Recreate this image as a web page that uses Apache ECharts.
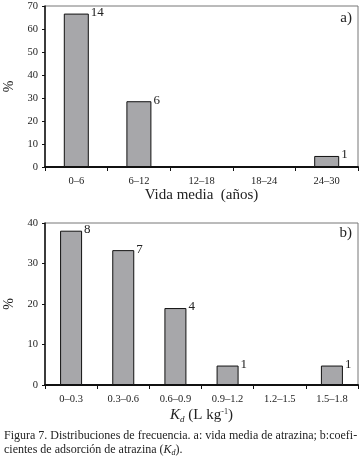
<!DOCTYPE html>
<html>
<head>
<meta charset="utf-8">
<script src="https://cdn.jsdelivr.net/npm/echarts@6/dist/echarts.min.js"></script>
<style>
  html, body { margin: 0; padding: 0; background: #fff; }
  #main { width: 364px; height: 462px; }
</style>
</head>
<body>
<div id="main"></div>
<script>
// a) vida media (años)
var catsA = ['0–6', '6–12', '12–18', '18–24', '24–30'];
var pctA = [66.7, 28.6, 0, 0, 4.8];
var countA = [14, 6, 0, 0, 1];
// b) Kd (L kg-1)
var catsB = ['0–0.3', '0.3–0.6', '0.6–0.9', '0.9–1.2', '1.2–1.5', '1.5–1.8'];
var pctB = [38.1, 33.3, 19.0, 4.8, 0, 4.8];
var countB = [8, 7, 4, 1, 0, 1];

var serif = '"Liberation Serif", "DejaVu Serif", serif';
var ink = '#222';

var myChart = echarts.init(document.getElementById('main'));

function xAxisFor(cats, idx, name, gap) {
    return {
        type: 'category', gridIndex: idx, data: cats,
        name: name, nameLocation: 'middle', nameGap: gap,
        nameTextStyle: { fontFamily: serif, fontSize: 15, color: ink, rich: {
            i: { fontFamily: serif, fontSize: 15, fontStyle: 'italic', color: ink },
            sub: { fontFamily: serif, fontSize: 9, fontStyle: 'italic', color: ink, padding: [8, 0, 0, 0] },
            n: { fontFamily: serif, fontSize: 15, color: ink },
            sup: { fontFamily: serif, fontSize: 8, color: ink, padding: [0, 0, 8, 0] }
        } },
        axisLine: { lineStyle: { color: '#111', width: 2 } },
        axisTick: { show: true, length: 4, lineStyle: { color: '#111' } },
        axisLabel: { fontFamily: serif, fontSize: 10.5, color: ink, margin: 9 },
        splitLine: { show: false }
    };
}

function yAxisFor(idx, max) {
    return {
        type: 'value', gridIndex: idx, min: 0, max: max, interval: 10,
        name: '%', nameLocation: 'middle', nameGap: 26, nameRotate: 90,
        nameTextStyle: { fontFamily: serif, fontSize: 14, color: ink },
        axisLine: { show: true, lineStyle: { color: '#111', width: 1.5 } },
        axisTick: { show: true, length: 3, lineStyle: { color: '#111' } },
        axisLabel: { fontFamily: serif, fontSize: 10.5, color: ink, margin: 7 },
        splitLine: { show: false }
    };
}

function barSeries(idx, vals, counts, width) {
    return {
        type: 'bar', xAxisIndex: idx, yAxisIndex: idx,
        data: vals, barWidth: width,
        itemStyle: { color: '#a7a7aa', borderColor: '#111', borderWidth: 1 },
        label: {
            show: true, position: ['100%', 0], align: 'left', verticalAlign: 'middle',
            offset: [2, -1],
            fontFamily: serif, fontSize: 13, color: ink,
            formatter: function (p) { return counts[p.dataIndex] ? String(counts[p.dataIndex]) : ''; }
        },
        silent: true
    };
}

var option = {
    animation: false,
    backgroundColor: '#fff',
    grid: [
        { left: 45, right: 6, top: 6, height: 161, show: true, borderColor: '#777', borderWidth: 1,
          containLabel: false, outerBoundsMode: 'none' },
        { left: 45, right: 6, top: 223, height: 162, show: true, borderColor: '#777', borderWidth: 1,
          containLabel: false, outerBoundsMode: 'none' }
    ],
    xAxis: [
        xAxisFor(catsA, 0, 'Vida media  (años)', 20),
        xAxisFor(catsB, 1, '{i|K}{sub|d}{n| (L kg}{sup|-1}{n|)}', 22)
    ],
    yAxis: [yAxisFor(0, 70), yAxisFor(1, 40)],
    series: [
        barSeries(0, pctA, countA, 25),
        barSeries(1, pctB, countB, 22)
    ],
    graphic: [
        { type: 'text', right: 12, top: 11, style: { text: 'a)', font: '15px ' + serif, fill: ink } },
        { type: 'text', right: 12, top: 226, style: { text: 'b)', font: '15px ' + serif, fill: ink } },
        { type: 'text', left: 4, top: 430, style: {
            text: 'Figura 7. Distribuciones de frecuencia. a: vida media de atrazina; b:coefi-',
            font: '12px ' + serif, fill: ink } },
        { type: 'text', left: 4, top: 444, style: {
            text: '{n|cientes de adsorción de atrazina (}{i|K}{sub|d}{n|).}',
            font: '12px ' + serif, fill: ink,
            rich: {
                n: { fontFamily: serif, fontSize: 12, fill: ink },
                i: { fontFamily: serif, fontSize: 12, fontStyle: 'italic', fill: ink },
                sub: { fontFamily: serif, fontSize: 8, fontStyle: 'italic', fill: ink, padding: [5, 0, 0, 0] }
            } } }
    ]
};

myChart.setOption(option);
</script>
</body>
</html>
